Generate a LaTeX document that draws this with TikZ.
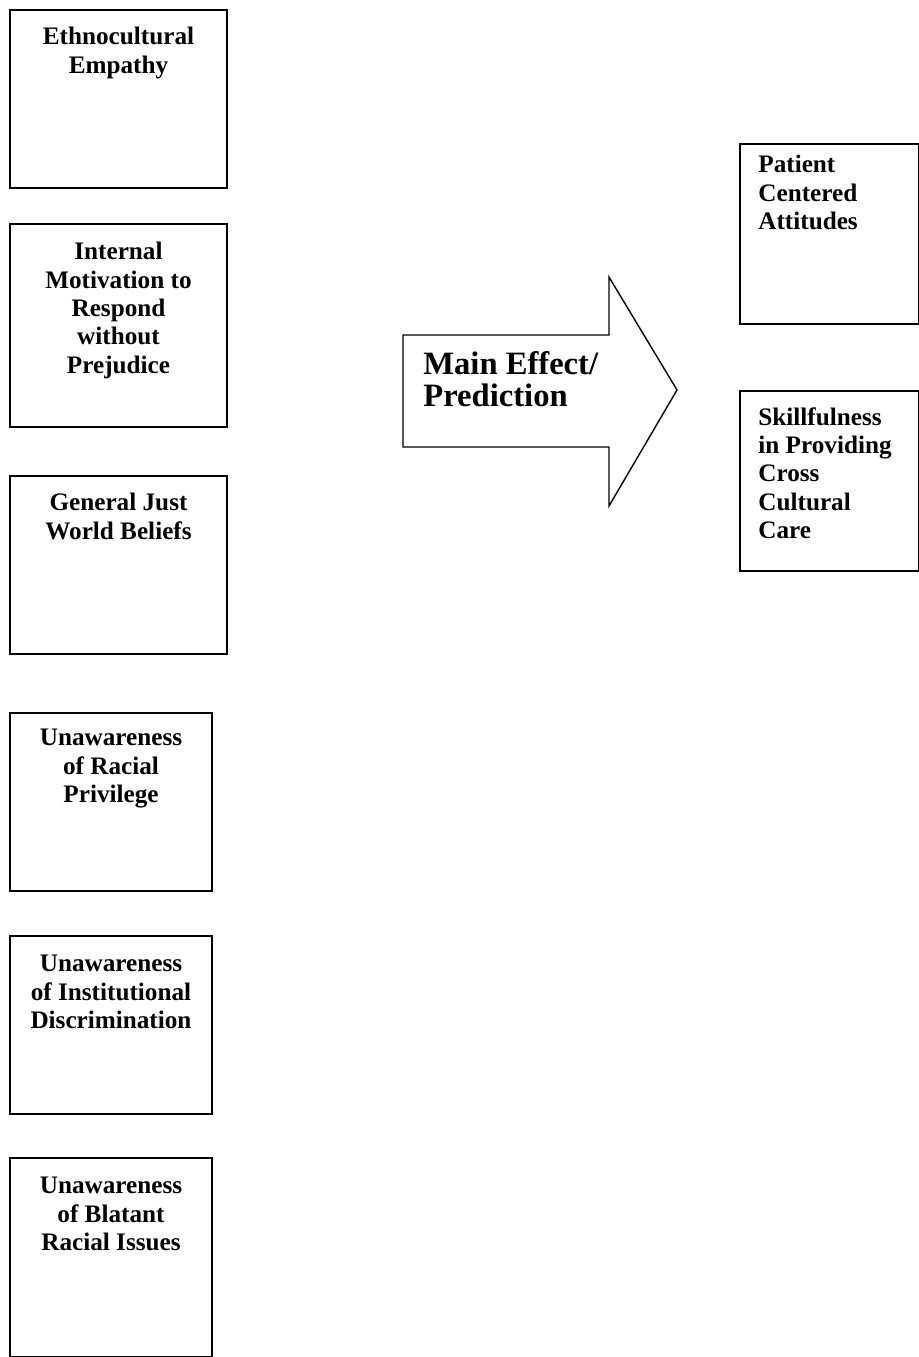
\documentclass[tikz,border=0pt]{standalone}
\usepackage{fontspec}
\setmainfont{Liberation Serif}
\begin{document}
\begin{tikzpicture}[x=0.5pt,y=-0.5pt,
  box/.style={draw=black, line width=1pt, anchor=north west, inner sep=0pt, minimum width=#1},
  box/.default=108.5pt,
  lbl/.style={inner sep=0pt, align=center, anchor=north, font=\fontsize{12.6pt}{14.15pt}\selectfont\bfseries},
  rlbl/.style={inner sep=0pt, align=left, anchor=north west, font=\fontsize{12.6pt}{14.15pt}\selectfont\bfseries},
  bigarrow/.style={draw=black, line width=0.7pt, line join=miter},
  alabel/.style={inner sep=0pt, align=left, anchor=north west, font=\fontsize{16.3pt}{16pt}\selectfont\bfseries}]
\useasboundingbox (0,0) rectangle (919,1357);
% left boxes
\node[box, minimum height=89pt] (b1) at (9,9) {};
\node[box, minimum height=101.5pt] (b2) at (9,223) {};
\node[box, minimum height=89pt] (b3) at (9,475) {};
\node[box=101pt, minimum height=89pt] (b4) at (9,712) {};
\node[box=101pt, minimum height=89pt] (b5) at (9,935) {};
\node[box=101pt, minimum height=99.5pt] (b6) at (9,1157) {};
\node[lbl] (t1) at ([yshift=-9pt]b1.north) {Ethnocultural\\Empathy};
\node[lbl] (t2) at ([yshift=-9.5pt]b2.north) {Internal\\Motivation to\\Respond\\without\\Prejudice};
\node[lbl] (t3) at ([yshift=-9pt]b3.north) {General Just\\World Beliefs};
\node[lbl] (t4) at ([yshift=-8.5pt]b4.north) {Unawareness\\of Racial\\Privilege};
\node[lbl] (t5) at ([yshift=-10pt]b5.north) {Unawareness\\of Institutional\\Discrimination};
\node[lbl] (t6) at ([yshift=-10pt]b6.north) {Unawareness\\of Blatant\\Racial Issues};
% right boxes
\node[box=89.5pt, minimum height=90pt] (bp) at (739,143) {};
\node[box=89.5pt, minimum height=90pt] (bs) at (739,390) {};
\node[rlbl] (tp) at ([xshift=9.5pt,yshift=-6pt]bp.north west) {Patient\\Centered\\Attitudes};
\node[rlbl] (ts) at ([xshift=9.5pt,yshift=-8.5pt]bs.north west) {Skillfulness\\in Providing\\Cross\\Cultural\\Care};
% block arrow
\coordinate (a1) at (403,335);
\coordinate (a2) at (609,335);
\coordinate (a3) at (609,277);
\coordinate (tip) at (677,390);
\coordinate (a5) at (609,506);
\coordinate (a6) at (609,447);
\coordinate (a7) at (403,447);
\draw[bigarrow] (a1) -- (a2) -- (a3) -- (tip) -- (a5) -- (a6) -- (a7) -- cycle;
\node[alabel] (ta) at ([xshift=10pt,yshift=-8pt]a1) {Main Effect/\\Prediction};
\end{tikzpicture}
\end{document}
